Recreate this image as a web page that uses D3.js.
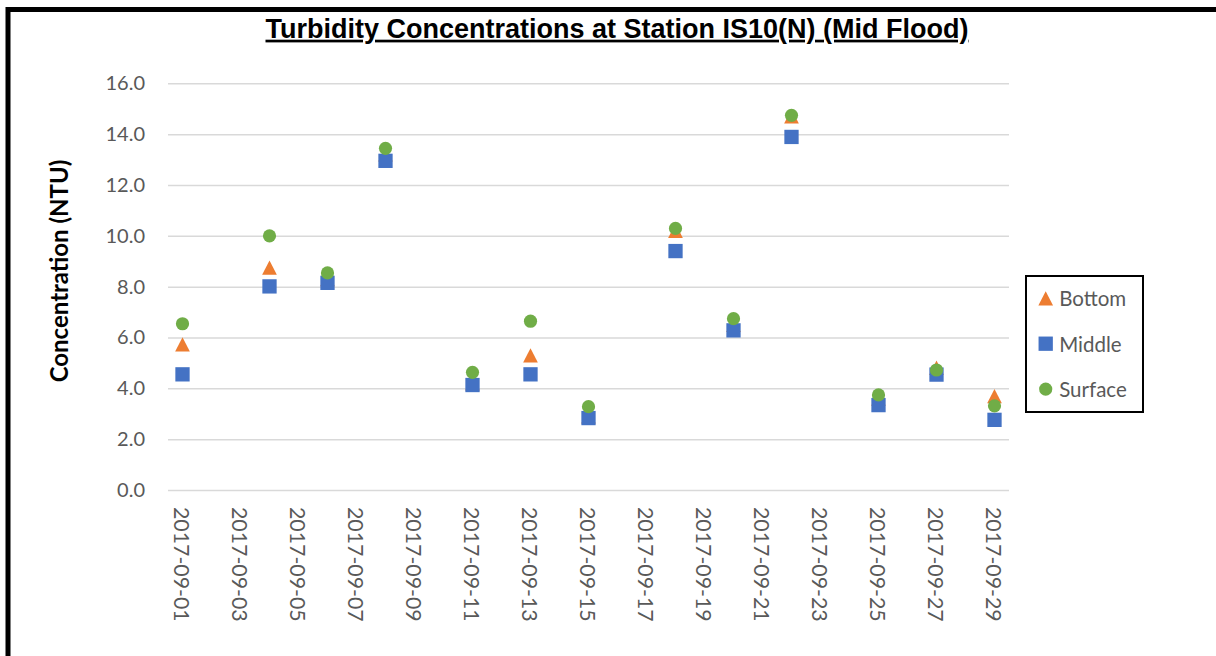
<!DOCTYPE html>
<html>
<head>
<meta charset="utf-8">
<script src="https://cdn.jsdelivr.net/npm/d3@7"></script>
<style>
  html, body { margin: 0; padding: 0; background: #fff; }
  svg { display: block; }
</style>
</head>
<body>
<svg id="chart" width="1216" height="656"></svg>
<script>
// Sampling dates and turbidity readings (NTU) at three depths
const sampleDates = ["2017-09-01", "2017-09-04", "2017-09-06", "2017-09-08", "2017-09-11",
  "2017-09-13", "2017-09-15", "2017-09-18", "2017-09-20", "2017-09-22",
  "2017-09-25", "2017-09-27", "2017-09-29"];
const bottomValues  = [5.73, 8.75, 8.3, 13.2, 4.2, 5.3, 2.9, 10.2, 6.5, 14.7, 3.6, 4.81, 3.69];
const middleValues  = [4.55, 8.01, 8.15, 12.95, 4.13, 4.55, 2.83, 9.40, 6.28, 13.89, 3.34, 4.54, 2.76];
const surfaceValues = [6.54, 10.0, 8.54, 13.44, 4.63, 6.64, 3.28, 10.29, 6.74, 14.74, 3.74, 4.72, 3.31];

const seriesNames  = ["Bottom", "Middle", "Surface"];
const seriesColors = ["#ED7D31", "#4472C4", "#70AD47"];

const yTickValues = [0, 2, 4, 6, 8, 10, 12, 14, 16];
const xTickLabels = ["2017-09-01", "2017-09-03", "2017-09-05", "2017-09-07", "2017-09-09",
  "2017-09-11", "2017-09-13", "2017-09-15", "2017-09-17", "2017-09-19",
  "2017-09-21", "2017-09-23", "2017-09-25", "2017-09-27", "2017-09-29"];

const titleText = "Turbidity Concentrations at Station IS10(N) (Mid Flood)";
const yTitleText = "Concentration (NTU)";

const parse = d3.utcParse("%Y-%m-%d");
const fmt = d3.utcFormat("%Y-%m-%d");

const svg = d3.select("#chart");

// outer frame (only top and left edges fall inside the view)
svg.append("rect")
  .attr("x", 8).attr("y", 9.5)
  .attr("width", 1300).attr("height", 800)
  .attr("fill", "none").attr("stroke", "#000").attr("stroke-width", 5);

const plot = { left: 168, right: 1009, top: 83.3, bottom: 490 };

// each day occupies one slot; points sit in the middle of their day
const x = d3.scaleUtc()
  .domain([d3.utcHour.offset(parse(xTickLabels[0]), -12),
           d3.utcHour.offset(parse(xTickLabels[xTickLabels.length - 1]), 12)])
  .range([plot.left, plot.right]);

const y = d3.scaleLinear().domain([0, 16]).range([plot.bottom, plot.top]);

// title
svg.append("text")
  .attr("x", 617).attr("y", 37.7)
  .attr("text-anchor", "middle")
  .attr("font-family", "'Liberation Sans', Arial, sans-serif")
  .attr("font-weight", "bold")
  .attr("font-size", 27)
  .attr("text-decoration", "underline")
  .attr("fill", "#000")
  .text(titleText);

// y axis with gridlines
const yAxis = svg.append("g")
  .attr("transform", `translate(${plot.left},0)`)
  .call(d3.axisLeft(y)
    .tickValues(yTickValues)
    .tickFormat(d3.format(".1f"))
    .tickSizeInner(-(plot.right - plot.left))
    .tickSizeOuter(0)
    .tickPadding(23));
yAxis.select(".domain").remove();
yAxis.selectAll(".tick line").attr("stroke", "#D9D9D9").attr("stroke-width", 1.5);
yAxis.selectAll(".tick text")
  .attr("font-family", "Lato, 'Open Sans', sans-serif")
  .attr("font-size", 20)
  .attr("fill", "#595959");

// x axis: rotated date labels
const xAxis = svg.append("g")
  .attr("transform", `translate(0,${plot.bottom})`)
  .call(d3.axisBottom(x)
    .tickValues(xTickLabels.map(parse))
    .tickFormat(fmt)
    .tickSize(0));
xAxis.select(".domain").remove();
xAxis.selectAll(".tick text")
  .attr("font-family", "Lato, 'Open Sans', sans-serif")
  .attr("font-size", 21.3)
  .attr("fill", "#595959")
  .attr("text-anchor", "start")
  .attr("dy", null)
  .attr("y", 0)
  .attr("dominant-baseline", "central")
  .attr("transform", "translate(-1,17) rotate(90)");

// y axis title
svg.append("text")
  .attr("transform", `translate(68,271) rotate(-90)`)
  .attr("text-anchor", "middle")
  .attr("font-family", "Lato, 'Open Sans', sans-serif")
  .attr("font-weight", "bold")
  .attr("font-size", 24)
  .attr("fill", "#000")
  .text(yTitleText);

// marker shapes
const markerShapes = [
  g => g.append("path").attr("d", "M0,-7.15L7.35,7.15L-7.35,7.15Z"),
  g => g.append("rect").attr("x", -7.15).attr("y", -7.15).attr("width", 14.3).attr("height", 14.3),
  g => g.append("circle").attr("r", 6.6)
];

const seriesValues = [bottomValues, middleValues, surfaceValues];

seriesValues.forEach((vals, i) => {
  const g = svg.append("g").attr("fill", seriesColors[i]);
  const pts = g.selectAll("g.pt")
    .data(sampleDates.map((d, j) => ({ date: parse(d), value: vals[j] })))
    .join("g")
    .attr("class", "pt")
    .attr("transform", d => `translate(${x(d.date)},${y(d.value)})`);
  pts.each(function () { markerShapes[i](d3.select(this)); });
});

// legend
const legend = svg.append("g");
legend.append("rect")
  .attr("x", 1026).attr("y", 276)
  .attr("width", 117).attr("height", 136)
  .attr("fill", "#fff").attr("stroke", "#000").attr("stroke-width", 2);

seriesNames.forEach((name, i) => {
  const row = legend.append("g").attr("transform", `translate(1045.7,${298.3 + i * 45.4})`);
  const m = row.append("g").attr("fill", seriesColors[i]);
  markerShapes[i](m);
  row.append("text")
    .attr("x", 13.5).attr("y", 0)
    .attr("dominant-baseline", "central")
    .attr("font-family", "Lato, 'Open Sans', sans-serif")
    .attr("font-size", 20.5)
    .attr("fill", "#595959")
    .text(name);
});
</script>
</body>
</html>
